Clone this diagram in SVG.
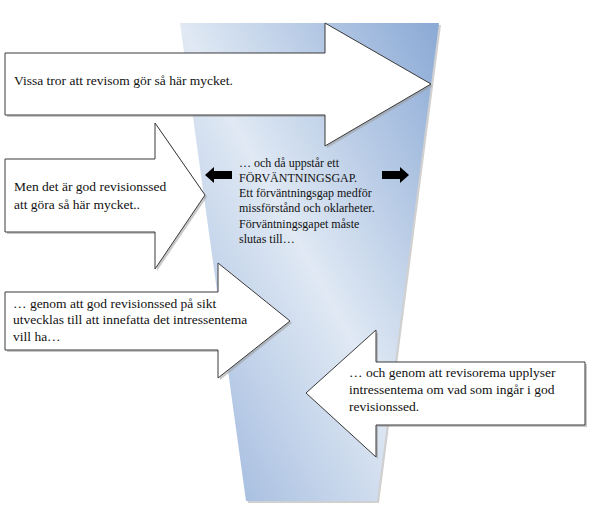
<svg xmlns="http://www.w3.org/2000/svg" xmlns:xlink="http://www.w3.org/1999/xlink" width="598" height="510" viewBox="0 0 598 510">
<style>
.arrow{fill:#ffffff;stroke:#3a3a3a;stroke-width:1;stroke-linejoin:miter}
.shadow{fill:#9a9a9a;opacity:0.55}
.lbl{font-family:"Liberation Serif","Times New Roman",serif;font-size:13.5px;fill:#111111}
.mid{font-family:"Liberation Serif","Times New Roman",serif;font-size:12px;fill:#111111}
.blk{fill:#000000}
</style>
<defs>
<linearGradient id="funnelGrad" x1="1" y1="0" x2="0" y2="1">
<stop offset="0" stop-color="#8aa9d5"/>
<stop offset="0.5" stop-color="#e0e9f4"/>
<stop offset="1" stop-color="#98b3db"/>
</linearGradient>
</defs>
<rect width="598" height="510" fill="#ffffff"/>
<g id="funnel">
<polygon points="182,25 441,25 379,503 248,503" fill="#b0b0b0" opacity="0.6"/>
<polygon points="180,23 439,23 377,501 246,501" fill="url(#funnelGrad)"/>
</g>
<g id="arrow1">
<polygon class="shadow" points="7,55 327,55 327,25 433,86 327,148 327,117 7,117"/>
<polygon class="arrow" points="5,53 325,53 325,23 431,84 325,146 325,115 5,115"/>
<text class="lbl" x="14" y="85">Vissa tror att revisom gör så här mycket.</text>
</g>
<g id="arrow2">
<polygon class="shadow" points="7,161 157,161 157,125 207,197 157,271 157,234 7,234"/>
<polygon class="arrow" points="5,159 155,159 155,123 205,195 155,269 155,232 5,232"/>
<text class="lbl" x="14" y="191">Men det är god revisionssed</text>
<text class="lbl" x="14" y="209">att göra så här mycket..</text>
</g>
<g id="gap">
<polygon class="blk" points="205,175 214,167 214,171 232,171 232,179 214,179 214,183"/>
<polygon class="blk" points="382,171 400,171 400,167 409,175 400,183 400,179 382,179"/>
<text class="mid" x="239" y="167">… och då uppstår ett</text>
<text class="mid" x="239" y="182">FÖRVÄNTNINGSGAP.</text>
<text class="mid" x="239" y="197">Ett förväntningsgap medför</text>
<text class="mid" x="239" y="212">missförstånd och oklarheter.</text>
<text class="mid" x="239" y="228">Förväntningsgapet måste</text>
<text class="mid" x="239" y="243">slutas till…</text>
</g>
<g id="arrow3">
<polygon class="shadow" points="7,294 220,294 220,265 292,323 220,380 220,352 7,352"/>
<polygon class="arrow" points="5,292 218,292 218,263 290,321 218,378 218,350 5,350"/>
<text class="lbl" x="13" y="308">… genom att god revisionssed på sikt</text>
<text class="lbl" x="13" y="324">utvecklas till att innefatta det intressentema</text>
<text class="lbl" x="13" y="341">vill ha…</text>
</g>
<g id="arrow4">
<polygon class="shadow" points="587,364 378,364 378,332 308,395 378,459 378,427 587,427"/>
<polygon class="arrow" points="585,362 376,362 376,330 306,393 376,457 376,425 585,425"/>
<text class="lbl" x="349" y="377">… och genom att revisorema upplyser</text>
<text class="lbl" x="349" y="394">intressentema om vad som ingår i god</text>
<text class="lbl" x="349" y="411">revisionssed.</text>
</g>
<g id="connectors"></g>
</svg>
